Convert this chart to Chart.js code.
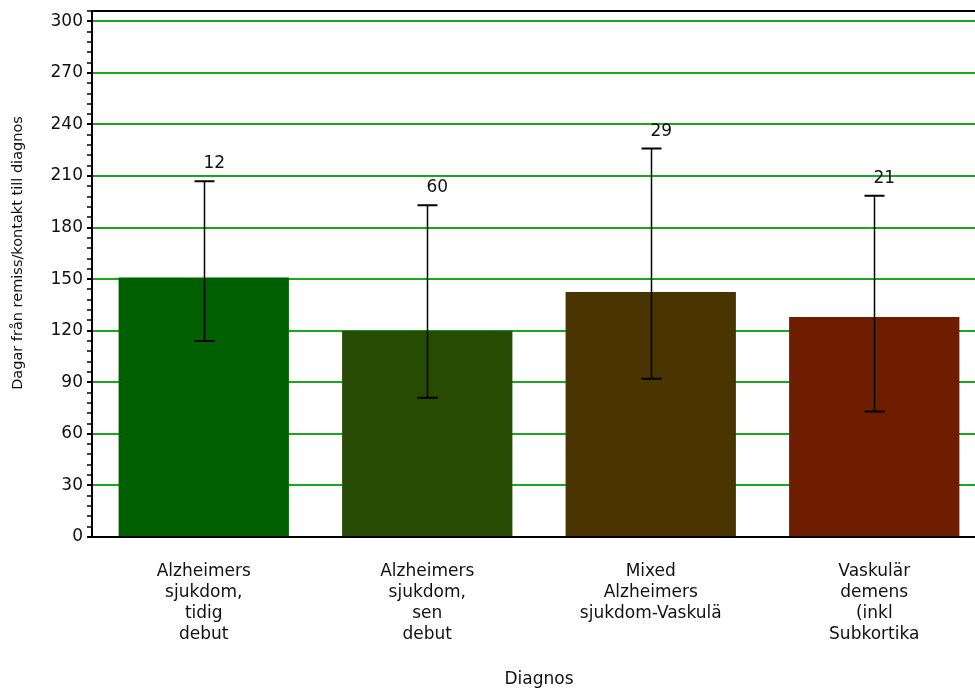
<!DOCTYPE html>
<html>
<head>
<meta charset="utf-8">
<script src="https://cdn.jsdelivr.net/npm/chart.js@4/dist/chart.umd.min.js"></script>
<style>
  html, body { margin: 0; padding: 0; background: #fff; overflow: hidden; }
  #wrap { width: 990px; height: 691px; }
</style>
</head>
<body>
<div id="wrap"><canvas id="c" width="990" height="691"></canvas></div>
<script>
// Diagnosis groups (multi-line category labels)
const categories = [
  ['Alzheimers', 'sjukdom,', 'tidig', 'debut'],
  ['Alzheimers', 'sjukdom,', 'sen', 'debut'],
  ['Mixed', 'Alzheimers', 'sjukdom-Vaskulä'],
  ['Vaskulär', 'demens', '(inkl', 'Subkortika']
];
// Mean days from referral/contact to diagnosis
const meanDays = [151, 120, 142.5, 128];
// Interval limits drawn as whiskers
const lowerDays = [114, 81, 92, 73];
const upperDays = [207, 193, 226, 198.5];
// Number of patients per group, printed above the whiskers
const counts = [12, 60, 29, 21];
const barColors = ['#006000', '#284b03', '#4a3500', '#6f1d00'];
const yTickLabels = [0, 30, 60, 90, 120, 150, 180, 210, 240, 270, 300];
const yTitle = 'Dagar från remiss/kontakt till diagnos';

const FONT = 'DejaVu Sans, Verdana, sans-serif';

const whiskers = {
  id: 'whiskers',
  afterDatasetsDraw(chart) {
    const { ctx, scales: { y } } = chart;
    const meta = chart.getDatasetMeta(0);
    ctx.save();
    meta.data.forEach((bar, i) => {
      const x = Math.round(bar.x) + 0.5;
      const yHi = y.getPixelForValue(upperDays[i]);
      const yLo = y.getPixelForValue(lowerDays[i]);
      ctx.strokeStyle = '#000';
      ctx.lineWidth = 1.5;
      ctx.beginPath();
      ctx.moveTo(x, yHi);
      ctx.lineTo(x, yLo);
      ctx.stroke();
      ctx.lineWidth = 2;
      ctx.beginPath();
      ctx.moveTo(x - 10, yHi); ctx.lineTo(x + 10, yHi);
      ctx.moveTo(x - 10, yLo); ctx.lineTo(x + 10, yLo);
      ctx.stroke();
      ctx.fillStyle = '#111';
      ctx.font = '17px ' + FONT;
      ctx.textAlign = 'left';
      ctx.textBaseline = 'alphabetic';
      ctx.fillText(String(counts[i]), x - 1, yHi - 13);
    });
    ctx.restore();
  }
};

// Plot frame top edge and the rotated y-axis title
const frameAndTitle = {
  id: 'frameAndTitle',
  afterDraw(chart) {
    const { ctx, chartArea: a } = chart;
    ctx.save();
    ctx.strokeStyle = '#000';
    ctx.lineWidth = 2;
    ctx.beginPath();
    ctx.moveTo(a.left - 1, a.top);
    ctx.lineTo(a.right, a.top);
    ctx.stroke();
    ctx.translate(18, 253);
    ctx.rotate(-Math.PI / 2);
    ctx.fillStyle = '#111';
    ctx.font = '14.5px ' + FONT;
    ctx.textAlign = 'center';
    ctx.textBaseline = 'middle';
    ctx.fillText(yTitle, 0, 0);
    ctx.restore();
  }
};

new Chart(document.getElementById('c'), {
  type: 'bar',
  data: {
    labels: categories,
    datasets: [{
      data: meanDays,
      backgroundColor: barColors,
      borderWidth: 0,
      categoryPercentage: 1,
      barPercentage: 0.762
    }]
  },
  options: {
    responsive: false,
    devicePixelRatio: 1,
    animation: false,
    layout: { padding: { top: 11, right: 4, bottom: 0, left: 0 } },
    plugins: { legend: { display: false }, tooltip: { enabled: false } },
    scales: {
      x: {
        afterFit(scale) { scale.height = 154; },
        grid: { display: false, drawTicks: false },
        border: { color: '#000', width: 2 },
        ticks: {
          color: '#111',
          font: { family: FONT, size: 17, lineHeight: '21px' },
          padding: 24,
          maxRotation: 0,
          autoSkip: false
        },
        title: {
          display: true,
          text: 'Diagnos',
          color: '#111',
          font: { family: FONT, size: 17 },
          padding: { top: 0, bottom: 1 }
        }
      },
      y: {
        min: 0,
        max: 306,
        afterFit(scale) {
          scale.width = 92;
          scale.paddingTop = 0;
          scale.paddingBottom = 0;
        },
        border: { color: '#000', width: 2 },
        grid: {
          color: c => (c.tick && c.tick.value % 30 === 0 && c.tick.value > 0) ? '#1ca61c' : 'rgba(0,0,0,0)',
          lineWidth: 2,
          drawTicks: true,
          tickLength: 5,
          tickColor: '#000',
          tickWidth: c => (c.tick && c.tick.value % 30 === 0) ? 2 : 1.5
        },
        ticks: {
          stepSize: 6,
          autoSkip: false,
          padding: 4,
          color: '#111',
          font: { family: FONT, size: 17 },
          callback: v => yTickLabels.includes(v) ? String(v) : ''
        }
      }
    }
  },
  plugins: [whiskers, frameAndTitle]
});
</script>
</body>
</html>
